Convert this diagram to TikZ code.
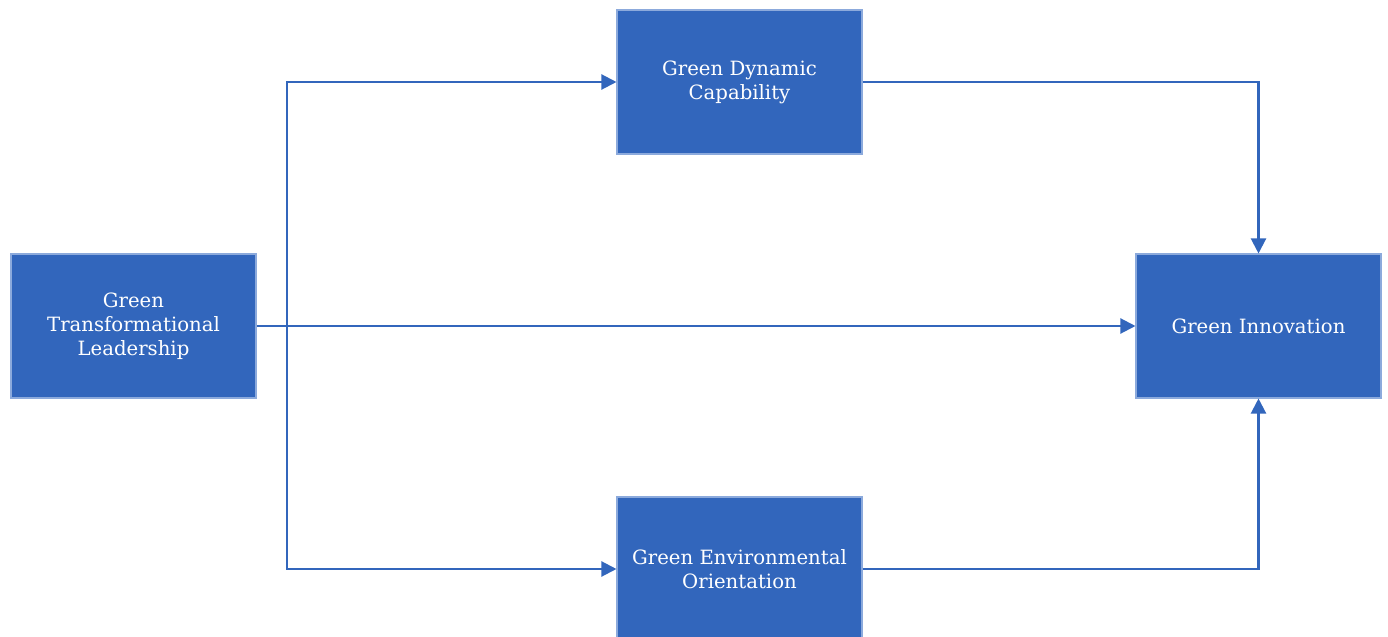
\documentclass[tikz,border=0pt]{standalone}
\usepackage{fontspec}
\setmainfont{DejaVu Serif}
\usetikzlibrary{arrows.meta}
\definecolor{boxblue}{RGB}{50,102,188}
\definecolor{edgeblue}{RGB}{140,170,220}
\begin{document}
\begin{tikzpicture}
  [
  var/.style={rectangle,draw=edgeblue,line width=0.6pt,fill=boxblue,text=white,
    minimum width=4.9cm,minimum height=2.88cm,align=center,inner sep=2pt,
    font=\fontsize{11.2}{13.6}\selectfont},
  link/.style={draw=boxblue,line width=1.2pt,-{Triangle[length=3mm,width=3mm]}}
  ]
  \useasboundingbox (0,0) rectangle (27.76,12.72);

  \node (gtl) at (2.67,6.2) [var] {Green\\Transformational\\Leadership};
  \node (gdc) at (14.79,11.08) [var] {Green Dynamic\\Capability};
  \node (geo) at (14.79,1.34) [var] {Green Environmental\\Orientation};
  \node (gi) at (25.17,6.2) [var] {Green Innovation};

  \coordinate (split) at (5.74,6.2);

  \draw [link] (gtl) to (gi);
  \draw [link] (split) |- (gdc);
  \draw [link] (split) |- (geo);
  \draw [link] (gdc) -| (gi);
  \draw [link] (geo) -| (gi);
\end{tikzpicture}
\end{document}
